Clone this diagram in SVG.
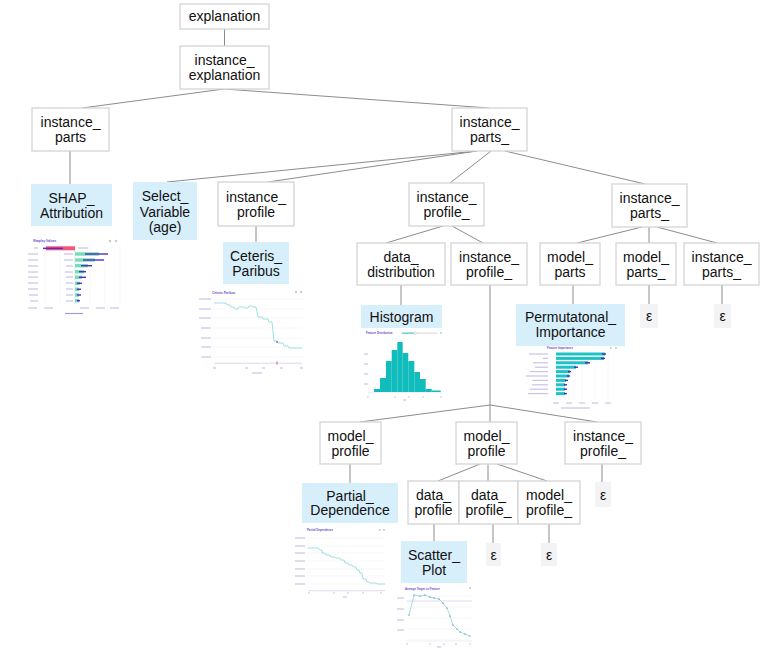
<svg xmlns="http://www.w3.org/2000/svg" width="764" height="652" viewBox="0 0 764 652">
<style>
.box{fill:#fff;stroke:#d4d4d4;stroke-width:1.3}
.blue{fill:#d7eefb;stroke:none}
.eps{fill:#f3f3f5;stroke:none}
.t{font-family:"Liberation Sans",Arial,sans-serif;font-size:14px;fill:#111;text-anchor:middle}
.edge{stroke:#8c8c8c;stroke-width:1;fill:none}
.grid{stroke:#efeff3;stroke-width:0.5}
.lab{stroke:#c9c3e6;stroke-width:1.2}
.ttl{font-family:"Liberation Sans",Arial,sans-serif;font-size:3.2px;font-weight:bold;fill:#6a4cc8}
.cp{fill:none;stroke:#86d8dc;stroke-width:0.8}
</style>
<rect width="764" height="652" fill="#fff"/>
<g id="connectors">
<line class="edge" x1="224.5" y1="29" x2="224.5" y2="46"/>
<line class="edge" x1="224" y1="89" x2="82" y2="108"/>
<line class="edge" x1="224" y1="89" x2="489" y2="108"/>
<line class="edge" x1="70" y1="151" x2="70" y2="184"/>
<line class="edge" x1="477" y1="151" x2="167" y2="182"/>
<line class="edge" x1="477" y1="151" x2="268" y2="182"/>
<line class="edge" x1="256" y1="226" x2="256" y2="242"/>
<line class="edge" x1="491" y1="151" x2="450" y2="183"/>
<line class="edge" x1="505" y1="151" x2="645" y2="184"/>
<line class="edge" x1="443" y1="226" x2="386" y2="243"/>
<line class="edge" x1="452" y1="226" x2="483" y2="243"/>
<line class="edge" x1="642" y1="227" x2="577" y2="243"/>
<line class="edge" x1="649" y1="227" x2="649" y2="243"/>
<line class="edge" x1="657" y1="227" x2="717" y2="243"/>
<line class="edge" x1="401" y1="285" x2="401" y2="305"/>
<line class="edge" x1="573" y1="285" x2="573" y2="304"/>
<line class="edge" x1="649" y1="285" x2="649" y2="304"/>
<line class="edge" x1="722" y1="285" x2="722" y2="304"/>
<line class="edge" x1="490" y1="285" x2="490" y2="405"/>
<line class="edge" x1="490" y1="405" x2="360" y2="422"/>
<line class="edge" x1="490" y1="405" x2="490" y2="422"/>
<line class="edge" x1="490" y1="405" x2="597" y2="422"/>
<line class="edge" x1="350" y1="464" x2="350" y2="483"/>
<line class="edge" x1="480" y1="464" x2="438" y2="481"/>
<line class="edge" x1="488" y1="464" x2="488" y2="481"/>
<line class="edge" x1="497" y1="464" x2="547" y2="481"/>
<line class="edge" x1="602" y1="464" x2="602" y2="482"/>
<line class="edge" x1="434" y1="524" x2="434" y2="541"/>
<line class="edge" x1="493" y1="524" x2="493" y2="543"/>
<line class="edge" x1="549" y1="524" x2="549" y2="543"/>
</g>
<g id="n_explanation"><rect class="box" x="180" y="4" width="89" height="25"/><text class="t" x="224.5" y="21">explanation</text></g>
<g id="n_instance_explanation"><rect class="box" x="180" y="46" width="89" height="43"/><text class="t" x="224.5" y="65">instance_</text><text class="t" x="224.5" y="80">explanation</text></g>
<g id="n_instance_parts"><rect class="box" x="32" y="108" width="77" height="43"/><text class="t" x="70.5" y="127">instance_</text><text class="t" x="70.5" y="142">parts</text></g>
<g id="n_instance_parts_a"><rect class="box" x="452" y="108" width="75" height="43"/><text class="t" x="489.5" y="127">instance_</text><text class="t" x="489.5" y="142">parts_</text></g>
<g id="n_shap"><rect class="blue" x="31" y="184" width="81" height="42"/><text class="t" x="71.5" y="202.5">SHAP_</text><text class="t" x="71.5" y="217.5">Attribution</text></g>
<g id="n_select"><rect class="blue" x="133" y="182" width="64" height="58"/><text class="t" x="165" y="201">Select_</text><text class="t" x="165" y="216.5">Variable</text><text class="t" x="165" y="232">(age)</text></g>
<g id="n_instance_profile"><rect class="box" x="218" y="182" width="76" height="44"/><text class="t" x="256" y="201.5">instance_</text><text class="t" x="256" y="216.5">profile</text></g>
<g id="n_ceteris"><rect class="blue" x="223" y="242" width="66" height="42"/><text class="t" x="256" y="260.5">Ceteris_</text><text class="t" x="256" y="275.5">Paribus</text></g>
<g id="n_instance_profile_a"><rect class="box" x="409" y="183" width="75" height="43"/><text class="t" x="446.5" y="202">instance_</text><text class="t" x="446.5" y="217">profile_</text></g>
<g id="n_instance_parts_b"><rect class="box" x="612" y="184" width="75" height="43"/><text class="t" x="649.5" y="203">instance_</text><text class="t" x="649.5" y="218">parts_</text></g>
<g id="n_data_distribution"><rect class="box" x="357" y="243" width="88" height="42"/><text class="t" x="401" y="261.5">data_</text><text class="t" x="401" y="276.5">distribution</text></g>
<g id="n_instance_profile_b"><rect class="box" x="451" y="243" width="76" height="42"/><text class="t" x="489" y="261.5">instance_</text><text class="t" x="489" y="276.5">profile_</text></g>
<g id="n_model_parts"><rect class="box" x="540" y="243" width="60" height="42"/><text class="t" x="570" y="261.5">model_</text><text class="t" x="570" y="276.5">parts</text></g>
<g id="n_model_parts_"><rect class="box" x="616" y="243" width="60" height="42"/><text class="t" x="646" y="261.5">model_</text><text class="t" x="646" y="276.5">parts_</text></g>
<g id="n_instance_parts_c"><rect class="box" x="684" y="243" width="75" height="42"/><text class="t" x="721.5" y="261.5">instance_</text><text class="t" x="721.5" y="276.5">parts_</text></g>
<g id="n_histogram"><rect class="blue" x="361" y="305" width="81" height="23"/><text class="t" x="401.5" y="321.5">Histogram</text></g>
<g id="n_permutational"><rect class="blue" x="516" y="304" width="109" height="42"/><text class="t" x="570.5" y="321.5">Permutatonal_</text><text class="t" x="570.5" y="336.5">Importance</text></g>
<g id="n_eps1"><rect class="eps" x="640" y="304" width="18" height="24"/><text class="t" x="649" y="321">ε</text></g>
<g id="n_eps2"><rect class="eps" x="714" y="304" width="17" height="24"/><text class="t" x="722.5" y="321">ε</text></g>
<g id="n_model_profile_l"><rect class="box" x="320" y="422" width="61" height="42"/><text class="t" x="350.5" y="440.5">model_</text><text class="t" x="350.5" y="455.5">profile</text></g>
<g id="n_model_profile_m"><rect class="box" x="456" y="422" width="61" height="42"/><text class="t" x="486.5" y="440.5">model_</text><text class="t" x="486.5" y="455.5">profile</text></g>
<g id="n_instance_profile_c"><rect class="box" x="565" y="422" width="76" height="42"/><text class="t" x="603" y="440.5">instance_</text><text class="t" x="603" y="455.5">profile_</text></g>
<g id="n_partial"><rect class="blue" x="302" y="483" width="96" height="40"/><text class="t" x="350" y="500.5">Partial_</text><text class="t" x="350" y="515">Dependence</text></g>
<g id="n_data_profile"><rect class="box" x="408" y="481" width="51" height="43"/><text class="t" x="433.5" y="500">data_</text><text class="t" x="433.5" y="515">profile</text></g>
<g id="n_data_profile_"><rect class="box" x="459" y="481" width="59" height="43"/><text class="t" x="488.5" y="500">data_</text><text class="t" x="488.5" y="515">profile_</text></g>
<g id="n_model_profile_"><rect class="box" x="518" y="481" width="62" height="43"/><text class="t" x="549" y="500">model_</text><text class="t" x="549" y="515">profile_</text></g>
<g id="n_eps3"><rect class="eps" x="595" y="482" width="16" height="25"/><text class="t" x="603" y="499.5">ε</text></g>
<g id="n_scatter"><rect class="blue" x="401" y="541" width="66" height="42"/><text class="t" x="434" y="559.5">Scatter_</text><text class="t" x="434" y="574.5">Plot</text></g>
<g id="n_eps4"><rect class="eps" x="486" y="543" width="15" height="23"/><text class="t" x="493.5" y="559.5">ε</text></g>
<g id="n_eps5"><rect class="eps" x="541" y="543" width="16" height="23"/><text class="t" x="549" y="559.5">ε</text></g>

<g id="thumb_shap">
<text class="ttl" x="33" y="242">Shapley Values</text>
<circle cx="110" cy="241" r="1.3" fill="#ccc"/><circle cx="116" cy="241" r="1.3" fill="#ccc"/>
<g class="grid"><line x1="45" y1="245" x2="45" y2="304"/><line x1="60" y1="245" x2="60" y2="304"/><line x1="90" y1="245" x2="90" y2="304"/><line x1="105" y1="245" x2="105" y2="304"/><line x1="120" y1="245" x2="120" y2="304"/></g>
<line x1="75" y1="245" x2="75" y2="304" stroke="#cfcfcf" stroke-width="0.5"/>
<g class="lab"><line x1="34" y1="248" x2="38" y2="248"/><line x1="28" y1="254" x2="38" y2="254"/><line x1="28" y1="260" x2="38" y2="260"/><line x1="28" y1="266" x2="38" y2="266"/><line x1="28" y1="272" x2="38" y2="272"/><line x1="28" y1="277" x2="38" y2="277"/><line x1="28" y1="283" x2="38" y2="283"/><line x1="28" y1="289" x2="38" y2="289"/><line x1="29" y1="295" x2="38" y2="295"/><line x1="30" y1="301" x2="38" y2="301"/>
<line x1="78" y1="248" x2="88" y2="248"/><line x1="64" y1="254" x2="73" y2="254"/><line x1="64" y1="260" x2="73" y2="260"/><line x1="66" y1="266" x2="73" y2="266"/><line x1="65" y1="272" x2="73" y2="272"/><line x1="66" y1="277" x2="73" y2="277"/><line x1="66" y1="283" x2="73" y2="283"/><line x1="66" y1="289" x2="73" y2="289"/><line x1="66" y1="295" x2="73" y2="295"/><line x1="66" y1="301" x2="73" y2="301"/>
<line x1="28" y1="308" x2="37" y2="308"/><line x1="44" y1="308" x2="53" y2="308"/><line x1="80" y1="308" x2="89" y2="308"/><line x1="96" y1="308" x2="105" y2="308"/><line x1="110" y1="308" x2="119" y2="308"/></g>
<rect x="46" y="246.3" width="29" height="4" fill="#f2577b"/>
<rect x="43" y="247.6" width="20" height="1.5" fill="#5b2cc2"/>
<g fill="#6fe0b9"><rect x="75" y="252.3" width="24" height="3.4"/><rect x="75" y="258.3" width="20" height="3.4"/><rect x="75" y="264" width="13" height="3.4"/><rect x="75" y="270" width="9" height="3.4"/><rect x="75" y="275.6" width="7" height="3.4"/><rect x="75" y="281.6" width="5" height="3.4"/><rect x="75" y="287.6" width="4" height="3.4"/><rect x="75" y="293.3" width="4" height="3.4"/><rect x="75" y="299" width="4" height="3.4"/></g>
<g fill="#5b2cc2"><rect x="85" y="253.3" width="23" height="1.4"/><rect x="83" y="259.3" width="21" height="1.4"/><rect x="81" y="265" width="11" height="1.4"/><rect x="79" y="271" width="7" height="1.4"/><rect x="79" y="276.6" width="7" height="1.4"/><rect x="77" y="282.6" width="5" height="1.4"/><rect x="77" y="288.6" width="4" height="1.4"/><rect x="77" y="294.3" width="4" height="1.4"/><rect x="77" y="300" width="3" height="1.4"/></g>
<line x1="65" y1="313.5" x2="83" y2="313.5" stroke="#a898e0" stroke-width="1.2"/>
</g>

<g id="thumb_ceteris">
<text class="ttl" x="212" y="294">Ceteris Paribus</text>
<circle cx="296" cy="292" r="1.2" fill="#ccc"/><circle cx="301" cy="292" r="1.2" fill="#ccc"/>
<g class="grid"><line x1="213" y1="299" x2="303" y2="299"/><line x1="213" y1="309" x2="303" y2="309"/><line x1="213" y1="318" x2="303" y2="318"/><line x1="213" y1="328" x2="303" y2="328"/><line x1="213" y1="338" x2="303" y2="338"/><line x1="213" y1="347" x2="303" y2="347"/><line x1="213" y1="357" x2="303" y2="357"/></g>
<g class="lab" stroke-width="0.9"><line x1="199" y1="299" x2="211" y2="299"/><line x1="199" y1="309" x2="211" y2="309"/><line x1="199" y1="318" x2="211" y2="318"/><line x1="201" y1="328" x2="211" y2="328"/><line x1="201" y1="338" x2="211" y2="338"/><line x1="201" y1="347" x2="211" y2="347"/><line x1="201" y1="357" x2="211" y2="357"/>
<line x1="213" y1="368" x2="216" y2="368"/><line x1="245" y1="368" x2="248" y2="368"/><line x1="262" y1="368" x2="265" y2="368"/><line x1="280" y1="368" x2="283" y2="368"/><line x1="300" y1="368" x2="303" y2="368"/><line x1="252" y1="373" x2="262" y2="373"/></g>
<polyline class="cp" points="214,303 226,303 227,305 230,305 231,307 234,307 235,309 238,309 239,307 244,307 245,308 248,308 249,306 252,306 253,307 256,307 258,317 262,317 263,319 268,319 269,322 272,322 273,332 274,341 277,341 278,343 283,343 284,346 288,346 289,348 302,348"/>
<circle cx="277" cy="342" r="0.8" fill="#4a2aa8"/>
<rect x="214" y="362.5" width="88" height="1.6" fill="#e8e6f3"/>
<rect x="276.5" y="361.5" width="1" height="3" fill="#f05070"/>
</g>

<g id="thumb_histogram">
<text class="ttl" x="366" y="334" style="font-size:2.8px">Feature Distribution</text>
<rect x="402" y="332.5" width="35" height="1.5" fill="#e3e3e3"/><rect x="402" y="332.5" width="13" height="1.5" fill="#6fd6d6"/><circle cx="415" cy="333.2" r="1.2" fill="#fff" stroke="#aaa" stroke-width="0.4"/>
<circle cx="441" cy="333" r="1.1" fill="#ccc"/>
<g class="lab" stroke-width="0.8"><line x1="364" y1="354" x2="368" y2="354"/><line x1="364" y1="364" x2="368" y2="364"/><line x1="364" y1="374" x2="368" y2="374"/><line x1="364" y1="384" x2="368" y2="384"/><line x1="367" y1="397" x2="369" y2="397"/><line x1="394" y1="397" x2="396" y2="397"/><line x1="408" y1="397" x2="410" y2="397"/><line x1="422" y1="397" x2="424" y2="397"/><line x1="440" y1="397" x2="442" y2="397"/><line x1="403" y1="400" x2="406" y2="400"/></g>
<g fill="#10bcbc"><rect x="374" y="389" width="6" height="3"/><rect x="380" y="378" width="6" height="14"/><rect x="386" y="361" width="5.7" height="31"/><rect x="391.7" y="350" width="5.6" height="42"/><rect x="397.3" y="342" width="5.4" height="50"/><rect x="402.7" y="353" width="5.6" height="39"/><rect x="408.3" y="361" width="6" height="31"/><rect x="414.3" y="372" width="5.7" height="20"/><rect x="420" y="379" width="5.7" height="13"/><rect x="425.7" y="389" width="6" height="3"/><rect x="431.7" y="390.5" width="9" height="1.5"/></g>
<line x1="368" y1="392.5" x2="442" y2="392.5" stroke="#e0e0e0" stroke-width="0.5"/>
</g>

<g id="thumb_importance">
<text class="ttl" x="547" y="349" style="font-size:2.8px">Feature Importance</text>
<circle cx="611" cy="348" r="1.1" fill="#ccc"/><circle cx="616" cy="348" r="1.1" fill="#ccc"/>
<g class="grid"><line x1="556" y1="351" x2="556" y2="400"/><line x1="569" y1="351" x2="569" y2="400"/><line x1="582" y1="351" x2="582" y2="400"/><line x1="595" y1="351" x2="595" y2="400"/><line x1="608" y1="351" x2="608" y2="400"/></g>
<g class="lab" stroke-width="0.9"><line x1="529" y1="354" x2="548" y2="354"/><line x1="543" y1="358.4" x2="548" y2="358.4"/><line x1="533" y1="362.8" x2="548" y2="362.8"/><line x1="535" y1="367.2" x2="548" y2="367.2"/><line x1="530" y1="371.6" x2="548" y2="371.6"/><line x1="526" y1="376" x2="548" y2="376"/><line x1="532" y1="380.4" x2="548" y2="380.4"/><line x1="532" y1="384.8" x2="548" y2="384.8"/><line x1="530" y1="389.2" x2="548" y2="389.2"/><line x1="528" y1="393.6" x2="548" y2="393.6"/>
<line x1="553" y1="403" x2="559" y2="403"/><line x1="566" y1="403" x2="572" y2="403"/><line x1="579" y1="403" x2="585" y2="403"/><line x1="592" y1="403" x2="598" y2="403"/><line x1="605" y1="403" x2="611" y2="403"/><line x1="561" y1="408" x2="590" y2="408"/></g>
<g fill="#1ec1c6"><rect x="556" y="352.5" width="49" height="3"/><rect x="556" y="356.9" width="48" height="3"/><rect x="556" y="361.3" width="32" height="3"/><rect x="556" y="365.7" width="20" height="3"/><rect x="556" y="370.1" width="14" height="3"/><rect x="556" y="374.5" width="13" height="3"/><rect x="556" y="378.9" width="10" height="3"/><rect x="556" y="383.3" width="9" height="3"/><rect x="556" y="387.7" width="9" height="3"/><rect x="556" y="392.1" width="9" height="3"/></g>
<g fill="#4a2ab0"><rect x="602" y="353.3" width="4" height="1.4"/><rect x="601" y="357.7" width="4" height="1.4"/><rect x="585" y="362.1" width="5" height="1.4"/><rect x="574" y="366.5" width="4" height="1.4"/><rect x="568" y="370.9" width="3" height="1.4"/><rect x="567" y="375.3" width="3" height="1.4"/><rect x="565" y="379.7" width="3" height="1.4"/><rect x="564" y="384.1" width="3" height="1.4"/><rect x="564" y="388.5" width="3" height="1.4"/><rect x="564" y="392.9" width="3" height="1.4"/></g>
</g>

<g id="thumb_partial">
<text class="ttl" x="307" y="531" style="font-size:2.8px">Partial Dependence</text>
<circle cx="380" cy="530" r="1.1" fill="#ccc"/><circle cx="384" cy="530" r="1.1" fill="#ccc"/>
<g class="grid"><line x1="307" y1="538" x2="385" y2="538"/><line x1="307" y1="546" x2="385" y2="546"/><line x1="307" y1="553" x2="385" y2="553"/><line x1="307" y1="561" x2="385" y2="561"/><line x1="307" y1="569" x2="385" y2="569"/><line x1="307" y1="576" x2="385" y2="576"/><line x1="307" y1="584" x2="385" y2="584"/></g>
<g class="lab" stroke-width="0.8"><line x1="295" y1="538" x2="305" y2="538"/><line x1="295" y1="546" x2="305" y2="546"/><line x1="295" y1="553" x2="305" y2="553"/><line x1="295" y1="561" x2="305" y2="561"/><line x1="295" y1="569" x2="305" y2="569"/><line x1="295" y1="576" x2="305" y2="576"/><line x1="295" y1="584" x2="305" y2="584"/>
<line x1="308" y1="593" x2="310" y2="593"/><line x1="333" y1="593" x2="335" y2="593"/><line x1="347" y1="593" x2="349" y2="593"/><line x1="362" y1="593" x2="364" y2="593"/><line x1="380" y1="593" x2="382" y2="593"/><line x1="343" y1="597" x2="347" y2="597"/></g>
<rect x="308" y="590" width="77" height="1.4" fill="#e8e6f3"/>
<polyline class="cp" points="308,548 318,548 320,550 322,550 322,553 325,553 326,555 330,555 331,557 335,557 336,558 340,558 341,560 344,560 345,563 348,563 349,565 352,565 353,567 356,567 357,570 359,570 360,573 362,573 363,579 366,579 367,582 369,582 370,583 376,583 377,584 385,584"/>
</g>

<g id="thumb_scatter">
<text class="ttl" x="405" y="590" style="font-size:2.8px">Average Target vs Feature</text>
<circle cx="470" cy="588" r="1.1" fill="#ccc"/>
<g class="grid"><line x1="407" y1="596" x2="472" y2="596"/><line x1="407" y1="607" x2="472" y2="607"/><line x1="407" y1="618" x2="472" y2="618"/><line x1="407" y1="629" x2="472" y2="629"/><line x1="407" y1="640" x2="472" y2="640"/></g>
<g class="lab" stroke-width="0.8"><line x1="397" y1="598" x2="404" y2="598"/><line x1="397" y1="609" x2="404" y2="609"/><line x1="397" y1="620" x2="404" y2="620"/><line x1="397" y1="630" x2="404" y2="630"/>
<line x1="406" y1="644" x2="408" y2="644"/><line x1="429" y1="644" x2="431" y2="644"/><line x1="443" y1="644" x2="445" y2="644"/><line x1="455" y1="644" x2="457" y2="644"/><line x1="469" y1="644" x2="471" y2="644"/><line x1="437" y1="647" x2="441" y2="647"/></g>
<line x1="407" y1="601" x2="472" y2="601" stroke="#cbc3ea" stroke-width="0.6"/>
<line x1="407" y1="641" x2="472" y2="641" stroke="#e3e3e3" stroke-width="0.5"/>
<polyline class="cp" points="409,615 414,595 420,596 425,595 430,597 434,598 439,599 443,603 447,608 450,616 453,625 457,629 460,632 465,634 470,636"/>
<g fill="#3a2aa0"><circle cx="409" cy="615" r="0.5"/><circle cx="414" cy="595" r="0.5"/><circle cx="420" cy="596" r="0.5"/><circle cx="425" cy="595" r="0.5"/><circle cx="430" cy="597" r="0.5"/><circle cx="434" cy="598" r="0.5"/><circle cx="439" cy="599" r="0.5"/><circle cx="443" cy="603" r="0.5"/><circle cx="447" cy="608" r="0.5"/><circle cx="450" cy="616" r="0.5"/><circle cx="453" cy="625" r="0.5"/><circle cx="457" cy="629" r="0.5"/><circle cx="460" cy="632" r="0.5"/><circle cx="465" cy="634" r="0.5"/><circle cx="470" cy="636" r="0.5"/></g>
</g>
</svg>
